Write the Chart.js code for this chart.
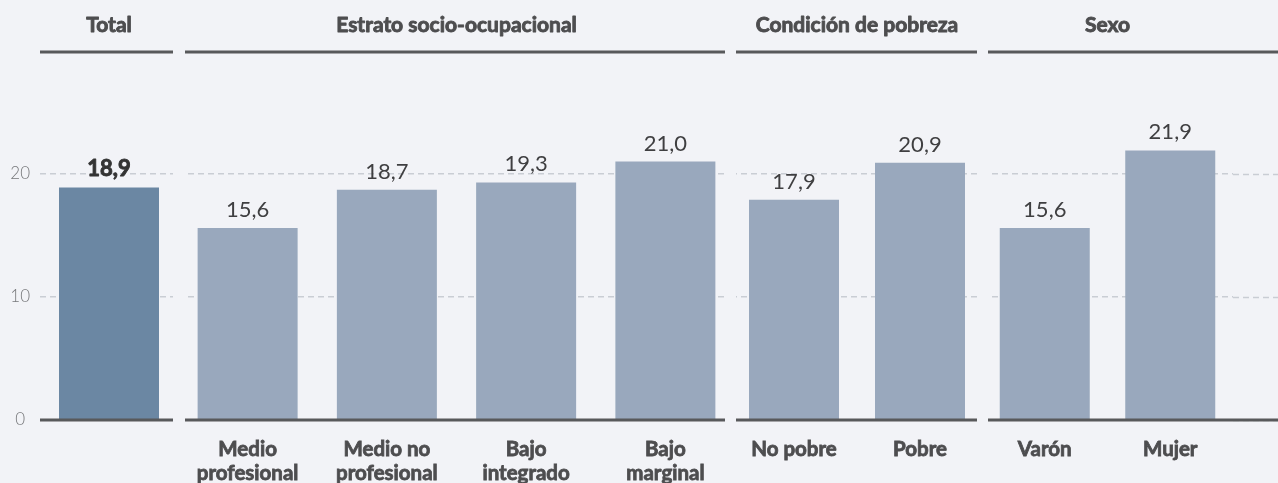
<!DOCTYPE html>
<html><head><meta charset="utf-8">
<script src="https://cdn.jsdelivr.net/npm/chart.js@4.4.1/dist/chart.umd.min.js"></script>
<style>
html,body{margin:0;padding:0;background:#f2f3f7;}
#wrap{position:relative;width:1278px;height:483px;overflow:hidden;background:#f2f3f7;}
canvas{position:absolute;top:0;}
</style></head><body>
<div id="wrap">
<canvas id="c0" width="178" height="483" style="left:0px"></canvas>
<canvas id="c1" width="557" height="483" style="left:178px"></canvas>
<canvas id="c2" width="252" height="483" style="left:731px"></canvas>
<canvas id="c3" width="296" height="483" style="left:982px"></canvas>
</div>
<script>
// ---- data ----
const groupTitles = ["Total", "Estrato socio-ocupacional", "Condición de pobreza", "Sexo"];
const totalLabels = [""];
const totalValues = [18.9];
const estratoLabels = [["Medio", "profesional"], ["Medio no", "profesional"], ["Bajo", "integrado"], ["Bajo", "marginal"]];
const estratoValues = [15.6, 18.7, 19.3, 21.0];
const pobrezaLabels = ["No pobre", "Pobre"];
const pobrezaValues = [17.9, 20.9];
const sexoLabels = ["Varón", "Mujer"];
const sexoValues = [15.6, 21.9];
const yTickValues = [0, 10, 20];
const yMin = 0;
const yMax = 26;

// ---- styles ----
const DARK = '#58595b';
const TEXT = '#4d4d4f';
const GRID = '#c9cdd4';
const FONT = "Lato, 'Noto Sans', sans-serif";

function fmt(v) { return v.toFixed(1).replace('.', ','); }

function makeDeco(cfg) {
  return {
    id: 'deco' + cfg.idx,
    beforeDraw(chart) {
      const ca = chart.chartArea, ctx = chart.ctx;
      const l = cfg.yAxis ? 0 : ca.left + cfg.insetL;
      const r = ca.right - cfg.insetR;
      ctx.save();
      ctx.beginPath();
      ctx.rect(l, 0, r - l, chart.height);
      ctx.clip();
    },
    beforeDatasetsDraw(chart) {
      if (cfg.insetR >= 0) return;
      const ca = chart.chartArea, ctx = chart.ctx, ys = chart.scales.y;
      ctx.save();
      ctx.strokeStyle = GRID;
      ctx.lineWidth = 1.5;
      ctx.setLineDash([6, 4]);
      yTickValues.forEach(v => {
        const py = Math.round(ys.getPixelForValue(v)) + 0.5;
        ctx.beginPath();
        ctx.moveTo(ca.right, py);
        ctx.lineTo(ca.right - cfg.insetR, py);
        ctx.stroke();
      });
      ctx.restore();
    },
    afterDatasetsDraw(chart) {
      const ctx = chart.ctx;
      const meta = chart.getDatasetMeta(0);
      const data = chart.data.datasets[0].data;
      ctx.save();
      ctx.fillStyle = cfg.bold ? '#333333' : '#3f3f41';
      ctx.strokeStyle = ctx.fillStyle;
      ctx.lineWidth = 0.9;
      ctx.lineJoin = 'round';
      ctx.font = (cfg.bold ? '700 ' : '400 ') + '22px ' + FONT;
      ctx.textAlign = 'center';
      ctx.textBaseline = 'alphabetic';
      meta.data.forEach((bar, i) => {
        if (cfg.bold) ctx.strokeText(fmt(data[i]), bar.x, bar.y - 11);
        ctx.fillText(fmt(data[i]), bar.x, bar.y - 11);
      });
      ctx.restore();
    },
    afterDraw(chart) {
      const ca = chart.chartArea, ctx = chart.ctx;
      ctx.restore();
      const l = ca.left + cfg.insetL;
      const r = ca.right - cfg.insetR;
      ctx.save();
      ctx.strokeStyle = DARK;
      ctx.lineWidth = 3;
      ctx.beginPath();
      ctx.moveTo(l, 52); ctx.lineTo(r, 52);
      ctx.moveTo(l, ca.bottom); ctx.lineTo(r, ca.bottom);
      ctx.stroke();
      ctx.fillStyle = TEXT;
      ctx.strokeStyle = TEXT;
      ctx.lineWidth = 0.9;
      ctx.lineJoin = 'round';
      ctx.font = '700 21px ' + FONT;
      ctx.textAlign = 'center';
      ctx.textBaseline = 'alphabetic';
      const cx = (ca.left + ca.right) / 2;
      ctx.strokeText(cfg.title, cx, 32);
      ctx.fillText(cfg.title, cx, 32);
      ctx.restore();
    }
  };
}

function makeChart(cfg) {
  new Chart(document.getElementById('c' + cfg.idx), {
    type: 'bar',
    data: {
      labels: cfg.labels,
      datasets: [{
        data: cfg.values,
        backgroundColor: cfg.color,
        borderWidth: 0,
        categoryPercentage: 1,
        barPercentage: cfg.barPct
      }]
    },
    options: {
      responsive: false,
      animation: false,
      devicePixelRatio: 1,
      layout: { padding: { top: 100, right: cfg.padRight, left: 0, bottom: 0 } },
      plugins: { legend: { display: false }, tooltip: { enabled: false }, title: { display: false } },
      scales: {
        x: {
          grid: { display: false, drawTicks: false },
          border: { display: false },
          ticks: {
            color: TEXT,
            font: { family: FONT, size: 20.5, weight: '700', lineHeight: 1.15 },
            textStrokeColor: TEXT,
            textStrokeWidth: 0.8,
            padding: 18,
            maxRotation: 0,
            autoSkip: false
          },
          afterFit(scale) { scale.height = 63; }
        },
        y: {
          min: yMin,
          max: yMax,
          afterBuildTicks(scale) { scale.ticks = yTickValues.map(v => ({ value: v })); },
          grid: { color: GRID, lineWidth: 1.5, drawTicks: false },
          border: { display: false, dash: [6, 4] },
          ticks: {
            display: cfg.yAxis,
            color: '#77787b',
            font: { family: FONT, size: 17, weight: '300' },
            padding: 10,
            crossAlign: 'center'
          },
          afterFit(scale) { scale.width = cfg.yAxis ? 40 : 0; }
        }
      }
    },
    plugins: [makeDeco(cfg)]
  });
}

makeChart({ idx: 0, title: groupTitles[0], labels: totalLabels, values: totalValues, color: '#6b87a3', bold: true,
  yAxis: true, padRight: 0, insetL: 0, insetR: 5, barPct: 100 / 138 });
makeChart({ idx: 1, title: groupTitles[1], labels: estratoLabels, values: estratoValues, color: '#99a8bd', bold: false,
  yAxis: false, padRight: 0, insetL: 7, insetR: 10, barPct: 100 / 139.25 });
makeChart({ idx: 2, title: groupTitles[2], labels: pobrezaLabels, values: pobrezaValues, color: '#99a8bd', bold: false,
  yAxis: false, padRight: 0, insetL: 5, insetR: 6, barPct: 90 / 126 });
makeChart({ idx: 3, title: groupTitles[3], labels: sexoLabels, values: sexoValues, color: '#99a8bd', bold: false,
  yAxis: false, padRight: 45, insetL: 6, insetR: -45, barPct: 90 / 125.5 });
</script>
</body></html>
